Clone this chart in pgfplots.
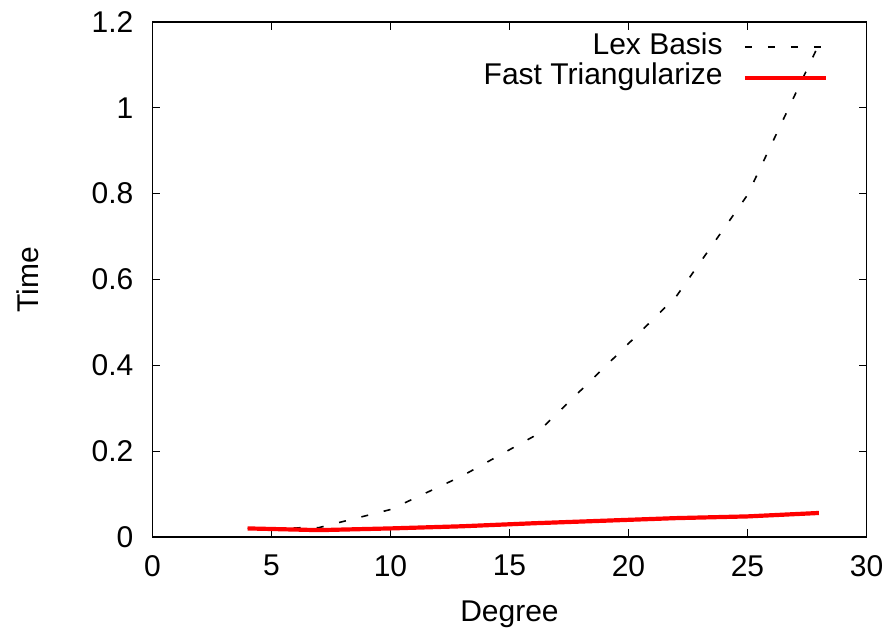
\documentclass[border=0pt]{standalone}
\usepackage{pgfplots}
\pgfplotsset{compat=1.18}
\usepackage{fontspec}
\setmainfont{Liberation Sans}
\begin{document}
\fontsize{30}{36}\selectfont
\begin{tikzpicture}
\begin{axis}[
  scale only axis,
  width=714pt, height=515pt,
  xmin=0, xmax=30, ymin=0, ymax=1.2,
  xtick={0,5,...,30},
  ytick={0,0.2,0.4,0.6,0.8,1,1.2},
  /pgf/number format/assume math mode=true,
  tick align=inside,
  major tick length=8pt,
  axis line style={line width=1.4pt},
  every tick/.style={black, line width=1pt},
  tick label style={font=\fontsize{30}{36}\selectfont, inner sep=0pt},
  xticklabel style={anchor=north, yshift=-18pt},
  yticklabel style={anchor=east, xshift=-19pt},
  label style={font=\fontsize{30}{36}\selectfont},
  xlabel={Degree},
  ylabel={Time},
  xlabel style={at={(axis description cs:0.5,-0.150)}, anchor=center},
  ylabel style={at={(axis description cs:-0.175,0.5)}, anchor=center},
  legend plot pos=right,
  legend cell align=right,
  legend style={draw=none, fill=none, inner sep=0pt, outer sep=0pt,
    at={(1,1)}, anchor=north east, xshift=-38.6pt, yshift=-9.8pt,
    font=\fontsize{30}{36}\selectfont,
    row sep=0pt,
    nodes={inner sep=0pt, text height=0.75em, text depth=0.27em}},
  legend image code/.code={\path (0pt,0pt); \draw[#1] (20pt,0pt) -- (101pt,0pt);},
]
\addplot[black, line width=1.6pt, dash pattern=on 7pt off 16pt] coordinates {
  (4,0.020) (7,0.022) (10,0.064) (13,0.142) (16,0.234) (19,0.396) (22,0.56) (25,0.797) (28,1.148)
};
\addlegendentry{Lex Basis}
\addplot[red, line width=4.2pt] coordinates {
  (4,0.020) (7,0.016) (10,0.020) (13,0.025) (16,0.032) (19,0.038) (22,0.044) (25,0.048) (28,0.056)
};
\addlegendentry{Fast Triangularize}
\end{axis}
\pgfresetboundingbox
\path (current axis.south west) ++(-152.5pt,-98pt) rectangle ++(891pt,635pt);
\end{tikzpicture}
\end{document}
